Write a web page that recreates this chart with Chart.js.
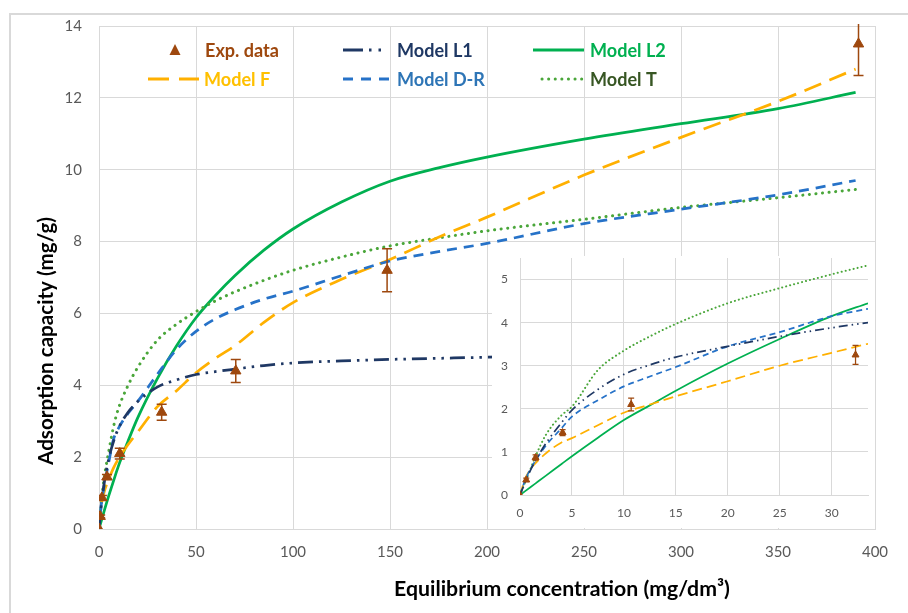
<!DOCTYPE html>
<html>
<head>
<meta charset="utf-8">
<script src="https://cdn.jsdelivr.net/npm/chart.js@4.4.0/dist/chart.umd.min.js"></script>
<style>
  html, body { margin: 0; padding: 0; background: #fff; }
  #wrap { position: relative; width: 908px; height: 613px; overflow: hidden; }
  #main { position: absolute; left: 0; top: 0; }
  #inset { position: absolute; left: 492px; top: 256px; background: #fff; }
</style>
</head>
<body>
<div id="wrap">
  <canvas id="main" width="908" height="613"></canvas>
  <canvas id="inset" width="383" height="272"></canvas>
</div>
<script>
// ---- main chart values (C in mg/dm3, q in mg/g) ----
var concMain = [0, 1, 2.5, 5, 7.5, 10, 15, 20, 30, 40, 50, 60, 70, 85, 100, 125, 150, 175, 200, 250, 300, 350, 390];
var mainL1 = [0, 0.57, 1.21, 1.95, 2.44, 2.8, 3.25, 3.55, 3.95, 4.15, 4.3, 4.38, 4.45, 4.55, 4.62, 4.68, 4.72, 4.75, 4.78, 4.82, 4.84, 4.86, 4.87];
var mainL2 = [0, 0.19, 0.47, 0.92, 1.34, 1.75, 2.45, 3.1, 4.18, 5.1, 5.88, 6.5, 7.05, 7.76, 8.35, 9.1, 9.68, 10.05, 10.35, 10.85, 11.28, 11.7, 12.15];
var mainF = [0, 0.6, 1.0, 1.38, 1.7, 1.95, 2.35, 2.7, 3.4, 3.85, 4.35, 4.75, 5.1, 5.75, 6.3, 6.95, 7.5, 8.12, 8.68, 9.85, 10.9, 11.9, 12.8];
var mainDR = [0, 0.6, 1.15, 1.85, 2.5, 2.8, 3.22, 3.55, 4.3, 5.0, 5.5, 5.85, 6.1, 6.4, 6.62, 7.05, 7.46, 7.72, 7.95, 8.5, 8.9, 9.3, 9.7];
var mainT = [0, 0.6, 1.35, 2.15, 2.85, 3.35, 4.0, 4.5, 5.25, 5.7, 6.05, 6.35, 6.6, 6.92, 7.2, 7.57, 7.88, 8.1, 8.3, 8.62, 8.95, 9.22, 9.45];

// ---- inset (low concentration zoom) values ----
var concInset = [0, 0.5, 1, 1.5, 2.5, 4, 5, 7.5, 10, 12.5, 15, 20, 25, 30, 33.5];
var insetL1 = [0, 0.3, 0.57, 0.8, 1.2, 1.68, 1.97, 2.45, 2.8, 3.02, 3.2, 3.45, 3.68, 3.88, 4.0];
var insetL2 = [0, 0.09, 0.18, 0.27, 0.45, 0.72, 0.9, 1.33, 1.74, 2.08, 2.42, 3.05, 3.62, 4.15, 4.45];
var insetF = [0, 0.38, 0.6, 0.74, 0.97, 1.22, 1.32, 1.62, 1.91, 2.1, 2.29, 2.64, 3.0, 3.3, 3.51];
var insetDR = [0, 0.35, 0.6, 0.8, 1.15, 1.55, 1.82, 2.2, 2.52, 2.75, 2.97, 3.45, 3.78, 4.15, 4.32];
var insetT = [0, 0.3, 0.6, 0.9, 1.4, 1.85, 2.05, 2.9, 3.35, 3.68, 3.97, 4.45, 4.8, 5.12, 5.33];

// ---- experimental data ----
var expConc = [0, 0.6, 1.5, 4.1, 10.7, 32.3, 70.5, 148.5, 391.5];
var expQ = [0, 0.35, 0.87, 1.45, 2.1, 3.25, 4.4, 7.2, 13.5];
var expErr = [0, 0.04, 0.06, 0.07, 0.15, 0.22, 0.32, 0.6, 0.88];

// ticks [min, max, step]
var xTicksMain = [0, 400, 50];
var yTicksMain = [0, 14, 2];
var xTicksInset = [0, 33.5, 5];
var yTicksInset = [0, 5.5, 1];

var BROWN = '#9E480E';
var C_L1 = '#1F3864', C_L2 = '#00B050', C_F = '#FFB000', C_DR = '#2672C8', C_T = '#4AA63A';

Chart.defaults.font.family = 'Lato, "Open Sans", sans-serif';

function pts(xs, ys) {
    return xs.map(function(x, i) { return { x: x, y: ys[i] }; });
}

function lineSet(label, xs, ys, color, width, dash, cap) {
    return {
        label: label,
        data: pts(xs, ys),
        showLine: true,
        borderColor: color,
        backgroundColor: color,
        borderWidth: width,
        borderDash: dash,
        borderCapStyle: cap || 'butt',
        pointRadius: 0,
        cubicInterpolationMode: 'monotone',
        fill: false
    };
}

function expSet(radius) {
    return {
        label: 'Exp. data',
        data: pts(expConc, expQ),
        showLine: false,
        pointStyle: 'triangle',
        pointRadius: radius,
        backgroundColor: BROWN,
        borderColor: BROWN,
        borderWidth: 1
    };
}

// scale the font so the text takes a given width
function fitFont(ctx, text, width, weight) {
    ctx.font = weight + ' 20px Lato';
    var size = 20 * width / ctx.measureText(text).width;
    ctx.font = weight + ' ' + size.toFixed(2) + 'px Lato';
}

// error bars drawn through the chart's scales
var errorBars = {
    id: 'errorBars',
    afterDatasetsDraw: function(chart, args, opts) {
        var ctx = chart.ctx, xs = chart.scales.x, ys = chart.scales.y, a = chart.chartArea;
        ctx.save();
        ctx.beginPath();
        ctx.rect(a.left, a.top - 2, a.right - a.left + 4, a.bottom - a.top + 2);
        ctx.clip();
        ctx.strokeStyle = BROWN;
        ctx.lineWidth = opts.width;
        for (var i = 0; i < expConc.length; i++) {
            if (!expErr[i] || expConc[i] > xs.max) continue;
            var px = xs.getPixelForValue(expConc[i]);
            var top = ys.getPixelForValue(expQ[i] + expErr[i]);
            var bot = ys.getPixelForValue(expQ[i] - expErr[i]);
            var c = opts.cap;
            ctx.beginPath();
            ctx.moveTo(px, top); ctx.lineTo(px, bot);
            ctx.moveTo(px - c, top); ctx.lineTo(px + c, top);
            ctx.moveTo(px - c, bot); ctx.lineTo(px + c, bot);
            ctx.stroke();
        }
        ctx.restore();
    }
};

// background frame, legend and axis titles for the main chart
var decor = {
    id: 'decor',
    beforeDraw: function(chart) {
        var ctx = chart.ctx;
        ctx.save();
        ctx.fillStyle = '#fff';
        ctx.fillRect(0, 0, chart.width, chart.height);
        ctx.strokeStyle = '#D9D9D9';
        ctx.lineWidth = 2;
        ctx.beginPath();
        ctx.moveTo(10, chart.height); ctx.lineTo(10, 14); ctx.lineTo(chart.width, 14);
        ctx.stroke();
        ctx.restore();
    },
    afterDraw: function(chart) {
        var ctx = chart.ctx;
        ctx.save();
        // axis titles
        ctx.fillStyle = '#000';
        ctx.textAlign = 'center';
        ctx.textBaseline = 'middle';
        var xTitle = 'Equilibrium concentration (mg/dm³)';
        fitFont(ctx, xTitle, 336, 'bold');
        ctx.fillText(xTitle, 562, 589);
        ctx.save();
        ctx.translate(46, 341);
        ctx.rotate(-Math.PI / 2);
        var yTitle = 'Adsorption capacity (mg/g)';
        fitFont(ctx, yTitle, 248, 'bold');
        ctx.fillText(yTitle, 0, 0);
        ctx.restore();

        // legend
        ctx.textAlign = 'left';
        fitFont(ctx, 'Model D-R', 88, 'bold');
        function sample(x1, x2, y, color, width, dash, cap) {
            ctx.save();
            ctx.strokeStyle = color;
            ctx.lineWidth = width;
            ctx.lineCap = cap || 'butt';
            ctx.setLineDash(dash);
            ctx.beginPath();
            ctx.moveTo(x1, y); ctx.lineTo(x2, y);
            ctx.stroke();
            ctx.restore();
        }
        // Exp. data marker
        ctx.fillStyle = BROWN;
        ctx.beginPath();
        ctx.moveTo(175, 44); ctx.lineTo(180.5, 55); ctx.lineTo(169.5, 55); ctx.closePath();
        ctx.fill();
        ctx.fillText('Exp. data', 205, 51);

        sample(343, 387, 50, C_L1, 3, [20, 6, 2.5, 7, 2.5, 20]);
        ctx.fillStyle = C_L1;
        ctx.fillText('Model L1', 397, 51);

        sample(533, 584, 50, C_L2, 3, []);
        ctx.fillStyle = C_L2;
        ctx.fillText('Model L2', 590, 51);

        sample(148, 199, 79, C_F, 3, [21, 10]);
        ctx.fillStyle = '#FFC000';
        ctx.fillText('Model F', 204, 80);

        sample(343, 390, 79, C_DR, 3, [10, 8]);
        ctx.fillStyle = '#2E75B6';
        ctx.fillText('Model D-R', 397, 80);

        sample(542, 582, 79, C_T, 3, [0.1, 6.5], 'round');
        ctx.fillStyle = '#375623';
        ctx.fillText('Model T', 590, 80);
        ctx.restore();
    }
};

function axis(range, size, pad, fit) {
    return {
        type: 'linear',
        min: range[0],
        max: range[1],
        ticks: { stepSize: range[2], includeBounds: false, padding: pad, color: '#595959', font: { size: size } },
        grid: { color: '#D9D9D9', drawTicks: false },
        border: { color: '#D9D9D9' },
        afterFit: fit
    };
}

function createCharts() {
    new Chart(document.getElementById('main').getContext('2d'), {
        type: 'scatter',
        data: {
            datasets: [
                expSet(6),
                lineSet('Model L1', concMain, mainL1, C_L1, 2.75, [15, 6, 2.5, 6, 2.5, 6]),
                lineSet('Model D-R', concMain, mainDR, C_DR, 2.75, [10, 7]),
                lineSet('Model F', concMain, mainF, C_F, 2.75, [18, 9]),
                lineSet('Model T', concMain, mainT, C_T, 3, [0.1, 6.5], 'round'),
                lineSet('Model L2', concMain, mainL2, C_L2, 2.75, [])
            ]
        },
        options: {
            responsive: false,
            animation: false,
            layout: { padding: { left: 0, right: 33, top: 25, bottom: 0 } },
            plugins: {
                legend: { display: false },
                tooltip: { enabled: false },
                errorBars: { width: 1.5, cap: 5 }
            },
            scales: {
                x: axis(xTicksMain, 15, 14, function(s) { s.height = 84; }),
                y: axis(yTicksMain, 15, 17, function(s) { s.width = 99; })
            }
        },
        plugins: [decor, errorBars]
    });

    new Chart(document.getElementById('inset').getContext('2d'), {
        type: 'scatter',
        data: {
            datasets: [
                expSet(4),
                lineSet('Model L1', concInset, insetL1, C_L1, 1.75, [9, 4, 1.5, 4, 1.5, 4]),
                lineSet('Model D-R', concInset, insetDR, C_DR, 1.75, [6, 4]),
                lineSet('Model F', concInset, insetF, C_F, 1.75, [10, 5]),
                lineSet('Model T', concInset, insetT, C_T, 2, [0.1, 4], 'round'),
                lineSet('Model L2', concInset, insetL2, C_L2, 1.75, [])
            ]
        },
        options: {
            responsive: false,
            animation: false,
            layout: { autoPadding: false, padding: { left: 0, right: 7, top: 2, bottom: 0 } },
            plugins: {
                legend: { display: false },
                tooltip: { enabled: false },
                errorBars: { width: 1.25, cap: 3 }
            },
            scales: {
                x: axis(xTicksInset, 12, 11, function(s) { s.height = 33; s.paddingLeft = 0; s.paddingRight = 0; }),
                y: axis(yTicksInset, 12, 12, function(s) { s.width = 28; s.paddingTop = 0; s.paddingBottom = 0; })
            }
        },
        plugins: [errorBars]
    });
}

document.addEventListener('DOMContentLoaded', createCharts);
</script>
</body>
</html>
